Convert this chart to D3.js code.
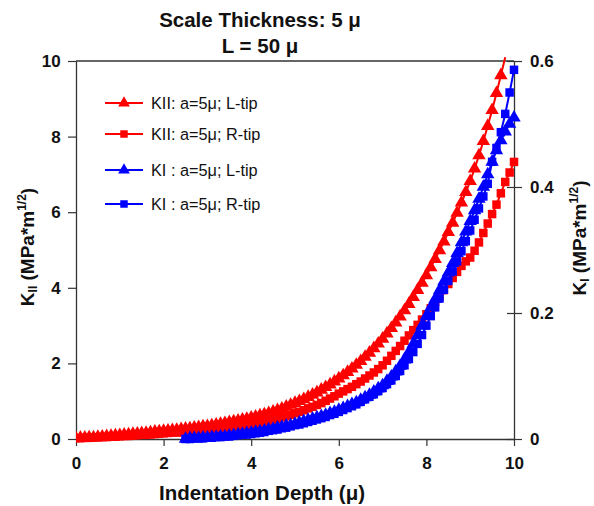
<!DOCTYPE html>
<html><head><meta charset="utf-8">
<script src="https://cdn.jsdelivr.net/npm/d3@7"></script>
<style>body{margin:0;background:#fff}svg{display:block}text{font-family:"Liberation Sans",Arial,sans-serif}</style>
</head><body><svg id="c" width="594" height="506"></svg>
<script>
const xTicks=[0,2,4,6,8,10];
const yLeftTicks=[0,2,4,6,8,10];
const yRightTicks=[0,0.2,0.4,0.6];
const seriesNames=["KII: a=5\u03bc; L-tip","KII: a=5\u03bc; R-tip","KI : a=5\u03bc; L-tip","KI : a=5\u03bc; R-tip"];
// KII, left axis, depth 0..10 step 0.1
const kiiX=d3.range(0,101).map(i=>i/10);
const kiiL=[0.02,0.03,0.03,0.04,0.04,0.05,0.06,0.07,0.08,0.09,
0.10,0.11,0.12,0.13,0.14,0.15,0.16,0.17,0.19,0.20,
0.21,0.22,0.23,0.24,0.26,0.27,0.28,0.30,0.31,0.33,
0.34,0.36,0.38,0.40,0.42,0.44,0.46,0.48,0.51,0.53,
0.56,0.59,0.62,0.65,0.68,0.72,0.76,0.80,0.85,0.90,
0.95,1.00,1.05,1.11,1.17,1.23,1.30,1.37,1.44,1.52,
1.60,1.68,1.77,1.86,1.96,2.06,2.17,2.28,2.40,2.52,
2.65,2.79,2.93,3.08,3.24,3.40,3.57,3.75,3.94,4.13,
4.33,4.54,4.76,4.99,5.22,5.47,5.72,5.98,6.25,6.53,
6.82,7.15,7.50,7.88,8.28,8.70,9.15,9.62,10.10];
const kiiR=[0.02,0.02,0.03,0.03,0.04,0.04,0.05,0.05,0.06,0.06,
0.07,0.08,0.08,0.09,0.10,0.11,0.11,0.12,0.13,0.14,
0.15,0.16,0.17,0.17,0.18,0.19,0.20,0.21,0.22,0.23,
0.24,0.25,0.26,0.28,0.29,0.30,0.32,0.33,0.34,0.36,
0.38,0.40,0.42,0.45,0.47,0.50,0.53,0.57,0.60,0.64,
0.68,0.72,0.76,0.81,0.85,0.90,0.95,1.01,1.07,1.13,
1.20,1.26,1.32,1.38,1.45,1.52,1.60,1.68,1.76,1.85,
1.95,2.07,2.20,2.33,2.46,2.60,2.74,2.88,3.02,3.16,
3.30,3.46,3.62,3.78,3.94,4.10,4.26,4.42,4.58,4.70,
4.80,4.98,5.20,5.45,5.70,5.95,6.20,6.50,6.80,7.05,7.33];
// KI, right axis, depth 2.5..10 step 0.1
const kiX=d3.range(25,101).map(i=>i/10);
const kiL=[0.000,0.001,0.001,0.001,0.002,0.002,0.003,0.003,0.004,0.004,
0.005,0.006,0.007,0.008,0.009,0.010,0.011,0.012,0.013,0.015,
0.016,0.018,0.019,0.021,0.022,0.024,0.026,0.028,0.030,0.032,
0.034,0.036,0.038,0.041,0.043,0.046,0.049,0.052,0.055,0.058,
0.062,0.066,0.070,0.075,0.080,0.085,0.092,0.099,0.107,0.116,
0.126,0.138,0.151,0.165,0.180,0.195,0.209,0.222,0.236,0.250,
0.264,0.279,0.295,0.312,0.329,0.346,0.363,0.381,0.400,0.420,
0.440,0.458,0.474,0.488,0.500,0.510];
const kiR=[0.000,0.000,0.001,0.001,0.001,0.002,0.002,0.003,0.003,0.004,
0.004,0.005,0.006,0.007,0.007,0.008,0.009,0.010,0.011,0.013,
0.014,0.015,0.017,0.018,0.020,0.022,0.023,0.025,0.027,0.029,
0.031,0.033,0.035,0.038,0.040,0.043,0.046,0.049,0.052,0.055,
0.059,0.063,0.067,0.071,0.076,0.081,0.087,0.093,0.100,0.108,
0.117,0.127,0.138,0.151,0.165,0.180,0.195,0.209,0.223,0.237,
0.251,0.266,0.282,0.298,0.314,0.331,0.348,0.366,0.385,0.405,
0.440,0.462,0.487,0.516,0.550,0.586];

const svg=d3.select("#c");
const L=76,R=514,T=61,B=439;
const x=d3.scaleLinear().domain([0,10]).range([L,R]);
const yL=d3.scaleLinear().domain([0,10]).range([B,T]);
const yR=d3.scaleLinear().domain([0,0.6]).range([B,T]);

const defs=svg.append("defs");
defs.append("clipPath").attr("id","cl").append("rect").attr("x",L).attr("y",0).attr("width",600).attr("height",600);
defs.append("clipPath").attr("id","cm").append("rect").attr("x",L).attr("y",T).attr("width",600).attr("height",600);

svg.append("line").attr("x1",L).attr("x2",R).attr("y1",T).attr("y2",T).attr("stroke","#333").attr("stroke-width",1.3);

const fs="17px";
const gx=svg.append("g").attr("transform",`translate(0,${B})`).call(d3.axisBottom(x).tickValues(xTicks).tickSize(7).tickSizeOuter(0).tickFormat(d3.format("d")));
const gl=svg.append("g").attr("transform",`translate(${L},0)`).call(d3.axisLeft(yL).tickValues(yLeftTicks).tickSize(8).tickSizeOuter(0).tickFormat(d3.format("d")));
const gr=svg.append("g").attr("transform",`translate(${R},0)`).call(d3.axisRight(yR).tickValues(yRightTicks).tickSize(8).tickSizeOuter(0).tickFormat(d=>d===0?"0":d3.format(".1f")(d)));
gr.selectAll(".tick line").attr("x1",-7).attr("x2",8);
[gx,gl,gr].forEach(g=>{
  g.select(".domain").attr("stroke","#333").attr("stroke-width",1.3);
  g.selectAll(".tick line").attr("stroke","#333").attr("stroke-width",1.2);
  g.selectAll(".tick text").attr("font-size",fs).attr("font-weight","bold").attr("fill","#111").attr("font-family","Liberation Sans, Arial, sans-serif");
});
gx.selectAll(".tick text").attr("dy","1.2em");
gl.selectAll(".tick text").attr("dx","-0.25em");
gr.selectAll(".tick text").attr("dx","0.3em");

const red="#ff0000", blue="#0000ff";
const tri=d3.symbol().type(d3.symbolTriangle).size(78);
const sq=d3.symbol().type(d3.symbolSquare).size(72);
const series=[
 {xs:kiiX,ys:kiiL,y:yL,c:red,sym:tri,name:seriesNames[0]},
 {xs:kiiX,ys:kiiR,y:yL,c:red,sym:sq,name:seriesNames[1]},
 {xs:kiX,ys:kiL,y:yR,c:blue,sym:tri,name:seriesNames[2]},
 {xs:kiX,ys:kiR,y:yR,c:blue,sym:sq,name:seriesNames[3]}
];
series.forEach(s=>{
  const pts=s.ys.map((v,i)=>[s.xs[i],v]);
  const line=d3.line().x(d=>x(d[0])).y(d=>s.y(d[1]));
  svg.append("path").attr("d",line(pts)).attr("fill","none").attr("stroke",s.c).attr("stroke-width",2).attr("clip-path","url(#cl)");
  svg.append("g").attr("clip-path","url(#cm)").selectAll("path").data(pts).join("path")
    .attr("d",s.sym).attr("transform",d=>`translate(${x(d[0])},${s.y(d[1])})`).attr("fill",s.c);
});

// legend
const lg=svg.append("g");
const ly=[103,134,170,204];
const tsl=d3.symbol().type(d3.symbolTriangle).size(60), sql=d3.symbol().type(d3.symbolSquare).size(56);
series.forEach((s,i)=>{
  lg.append("line").attr("x1",105).attr("x2",143).attr("y1",ly[i]).attr("y2",ly[i]).attr("stroke",s.c).attr("stroke-width",2);
  lg.append("path").attr("d",i%2===0?tsl:sql).attr("transform",`translate(124,${ly[i]})`).attr("fill",s.c);
  lg.append("text").attr("x",151).attr("y",ly[i]+6).attr("font-size","16.3px").attr("fill","#111").text(s.name);
});

// titles
const tf="20.5px";
svg.append("text").attr("x",260).attr("y",27).attr("text-anchor","middle").attr("font-size",tf).attr("font-weight","bold").attr("fill","#111").text("Scale Thickness: 5 \u03bc");
svg.append("text").attr("x",260).attr("y",53).attr("text-anchor","middle").attr("font-size",tf).attr("font-weight","bold").attr("fill","#111").text("L = 50 \u03bc");
svg.append("text").attr("x",262).attr("y",500).attr("text-anchor","middle").attr("font-size",tf).attr("font-weight","bold").attr("fill","#111").text("Indentation Depth (\u03bc)");

function kLabel(cx,cy,sub){
  const t=svg.append("text").attr("transform",`translate(${cx},${cy}) rotate(-90)`).attr("text-anchor","middle").attr("font-size","19px").attr("font-weight","bold").attr("fill","#111");
  t.append("tspan").text("K");
  t.append("tspan").attr("font-size","12px").attr("dy","3").text(sub);
  t.append("tspan").attr("dy","-3").text(" (MPa*m");
  t.append("tspan").attr("font-size","12px").attr("dy","-8").text("1/2");
  t.append("tspan").attr("dy","8").text(")");
}
kLabel(34,247,"II");
kLabel(586,238,"I");
</script></body></html>
